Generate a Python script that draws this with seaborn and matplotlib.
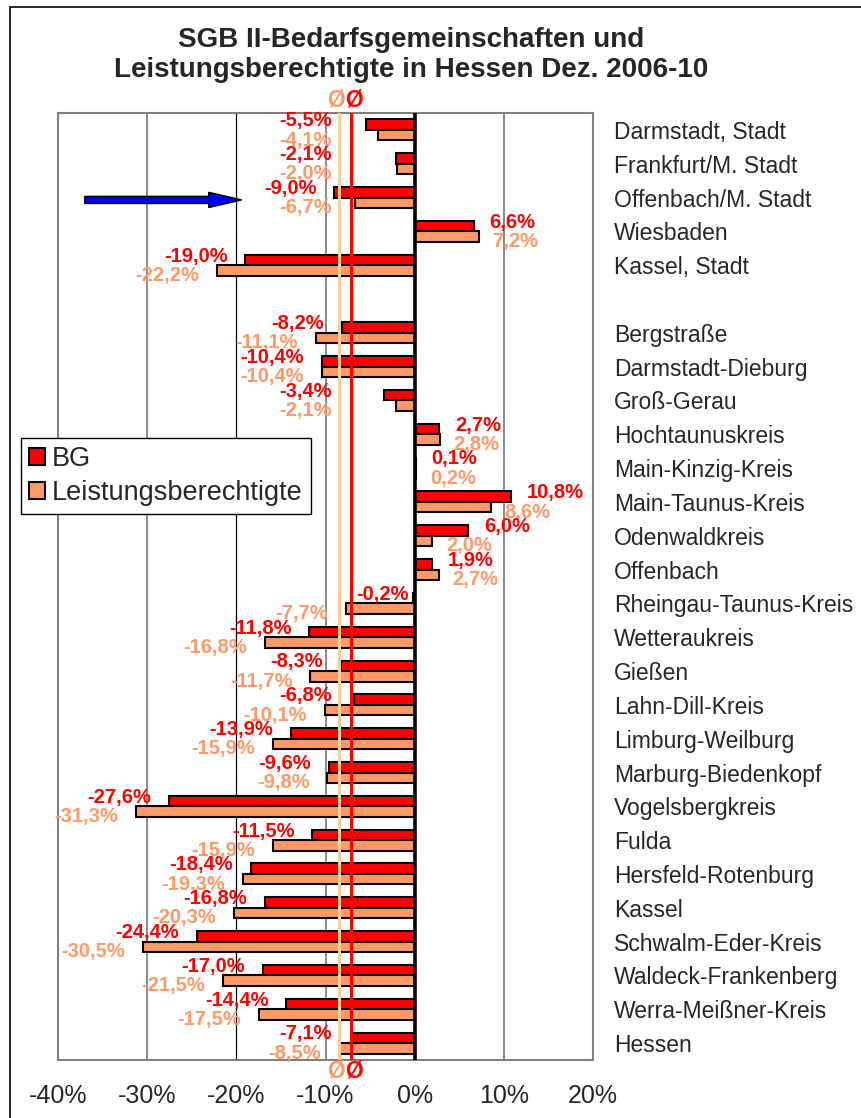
import matplotlib
matplotlib.use("Agg")
import matplotlib.pyplot as plt
import seaborn as sns
import pandas as pd
from matplotlib.patches import Patch, Rectangle, FancyArrow

# Veränderung Dez. 2006 bis Dez. 2010 in %
staedte = ["Darmstadt, Stadt", "Frankfurt/M. Stadt", "Offenbach/M. Stadt",
           "Wiesbaden", "Kassel, Stadt"]
staedte_bg = [-5.5, -2.1, -9.0, 6.6, -19.0]
staedte_lb = [-4.1, -2.0, -6.7, 7.2, -22.2]

kreise = ["Bergstraße", "Darmstadt-Dieburg", "Groß-Gerau", "Hochtaunuskreis",
          "Main-Kinzig-Kreis", "Main-Taunus-Kreis", "Odenwaldkreis", "Offenbach",
          "Rheingau-Taunus-Kreis", "Wetteraukreis", "Gießen", "Lahn-Dill-Kreis",
          "Limburg-Weilburg", "Marburg-Biedenkopf", "Vogelsbergkreis", "Fulda",
          "Hersfeld-Rotenburg", "Kassel", "Schwalm-Eder-Kreis",
          "Waldeck-Frankenberg", "Werra-Meißner-Kreis", "Hessen"]
kreise_bg = [-8.2, -10.4, -3.4, 2.7, 0.1, 10.8, 6.0, 1.9, -0.2, -11.8, -8.3,
             -6.8, -13.9, -9.6, -27.6, -11.5, -18.4, -16.8, -24.4, -17.0,
             -14.4, -7.1]
kreise_lb = [-11.1, -10.4, -2.1, 2.8, 0.2, 8.6, 2.0, 2.7, -7.7, -16.8, -11.7,
             -10.1, -15.9, -9.8, -31.3, -15.9, -19.3, -20.3, -30.5, -21.5,
             -17.5, -8.5]

reihen = ["BG", "Leistungsberechtigte"]
xticks = [-40, -30, -20, -10, 0, 10, 20]
pfeil_ziel = "Offenbach/M. Stadt"

ROT = "#FF0000"
ORANGE = "#FF9966"
HELL = "#FFCC99"

namen = staedte + kreise
bg = staedte_bg + kreise_bg
lb = staedte_lb + kreise_lb
order = staedte + [" "] + kreise   # leere Zeile zwischen Städten und Kreisen

df = pd.DataFrame({
    "Gebiet": namen + namen,
    "Wert": bg + lb,
    "Reihe": [reihen[0]] * len(namen) + [reihen[1]] * len(namen),
})

sns.set_theme(style="white")
plt.rcParams["font.family"] = ["Liberation Sans", "DejaVu Sans"]

fig = plt.figure(figsize=(8.62, 11.18), dpi=100)
ax = fig.add_axes([58 / 862, 1 - 1060 / 1118, (593 - 58) / 862, (1060 - 113) / 1118])

sns.barplot(data=df, y="Gebiet", x="Wert", hue="Reihe", order=order,
            hue_order=reihen, palette=[ROT, ORANGE], orient="h", width=0.62,
            saturation=1, errorbar=None, edgecolor="black", linewidth=1.5,
            legend=False, ax=ax)

ax.set_xlim(xticks[0], xticks[-1])
ax.set_ylim(len(order) - 0.5, -0.5)
ax.set_xticks(xticks)
ax.set_xticklabels([f"{t}%" for t in xticks], fontsize=18)
ax.set_xlabel("")
ax.set_ylabel("")
ax.yaxis.tick_right()
ax.tick_params(axis="y", length=0, pad=15, labelsize=16.5)
ax.tick_params(axis="x", length=0, pad=17)

ax.set_axisbelow(True)
ax.grid(axis="x", color="#808080", lw=1.3)
ax.get_xgridlines()[2].set_color("black")
ax.get_xgridlines()[2].set_linewidth(0.9)
for s in ax.spines.values():
    s.set_color("#808080")
    s.set_linewidth(1.5)

# Hessen-Durchschnitt als Linien
avg_bg = kreise_bg[-1]
avg_lb = kreise_lb[-1]
ax.axvline(avg_lb, color=HELL, lw=2.2, zorder=4)
ax.axvline(avg_bg, color=ROT, lw=2.2, zorder=4)
ax.axvline(0, color="black", lw=2.6, zorder=4)

mitte = (avg_bg + avg_lb) / 2
for yfrac, dy in [(1, 9), (0, -8)]:
    ax.annotate("Ø", xy=(mitte, yfrac), xycoords=("data", "axes fraction"),
                xytext=(0, dy), textcoords="offset points", ha="right",
                va="center", color=ORANGE, fontsize=16.5, fontweight="bold",
                annotation_clip=False)
    ax.annotate("Ø", xy=(mitte, yfrac), xycoords=("data", "axes fraction"),
                xytext=(0, dy), textcoords="offset points", ha="left",
                va="center", color=ROT, fontsize=16.5, fontweight="bold",
                annotation_clip=False)


def fmt(v):
    return f"{v:.1f}".replace(".", ",") + "%"


def label_x(v, rechts):
    # Excel-artige Lage: links neben negativen, rechts neben positiven Balken
    if v >= 0:
        return v + rechts, "left"
    if v > -1:
        return v - 0.5, "right"
    return min(v - 2.0, -9.3), "right"


for name, vb, vl in zip(namen, bg, lb):
    i = order.index(name)
    x, ha = label_x(vb, 1.8)
    ax.text(x, i - 0.27, fmt(vb), ha=ha, va="center", color=ROT,
            fontsize=14.5, fontweight="bold", zorder=6)
    x, ha = label_x(vl, 1.5)
    ax.text(x, i + 0.30, fmt(vl), ha=ha, va="center", color=ORANGE,
            fontsize=14.5, fontweight="bold", zorder=6)

# blauer Pfeil auf Offenbach/M. Stadt
py = order.index(pfeil_ziel) + 0.07
ax.add_patch(FancyArrow(-37.0, py, 17.6, 0, width=0.21, head_width=0.45,
                        head_length=3.7, length_includes_head=True,
                        fc="#0000FF", ec="black", lw=1, zorder=6))

handles = [Patch(facecolor=ROT, edgecolor="black", lw=1.5, label=reihen[0]),
           Patch(facecolor=ORANGE, edgecolor="black", lw=1.5, label=reihen[1])]
leg = ax.legend(handles=handles, loc="upper left",
                bbox_to_anchor=(21 / 862, 1 - 438 / 1118),
                bbox_transform=fig.transFigure, fontsize=19.5, frameon=True,
                fancybox=False, edgecolor="black", framealpha=1,
                handlelength=0.6, handleheight=0.6, handletextpad=0.25,
                borderpad=0.3, labelspacing=0.3, borderaxespad=0)
leg.get_frame().set_linewidth(1.0)
leg.set_zorder(7)

fig.text(411 / 862, 1 - 55 / 1118,
         "SGB II-Bedarfsgemeinschaften und\nLeistungsberechtigte in Hessen Dez. 2006-10",
         ha="center", va="center", fontsize=20, fontweight="bold",
         linespacing=1.2)

fig.add_artist(Rectangle((10 / 862, -0.01), 1.2, 1.01 - 7 / 1118,
                         transform=fig.transFigure, fill=False,
                         edgecolor="black", lw=1.2))

fig.savefig("out.png", dpi=100)
